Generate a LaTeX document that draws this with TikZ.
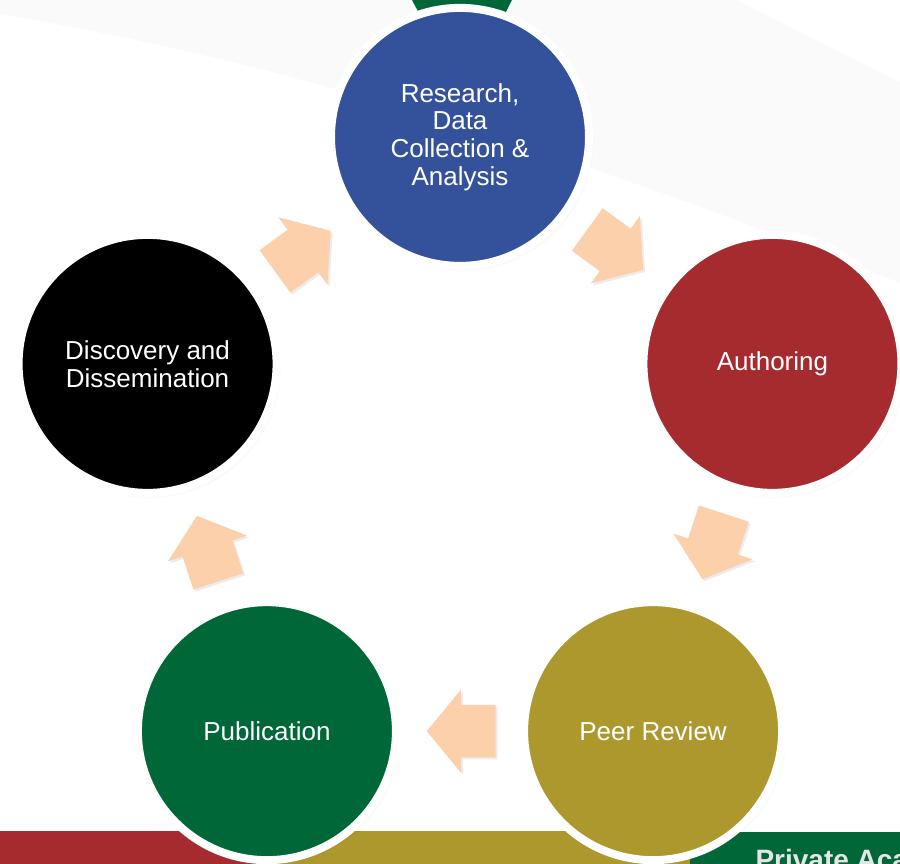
\documentclass[tikz,border=0pt]{standalone}
\usepackage{fontspec}
\setmainfont{Liberation Sans}
\usepackage{tikz}
\usetikzlibrary{shapes.arrows, shadows, calc}
\definecolor{resblue}{RGB}{51,82,155}
\definecolor{authred}{RGB}{166,43,47}
\definecolor{peerolive}{RGB}{173,152,46}
\definecolor{pubgreen}{RGB}{0,104,56}
\definecolor{peach}{RGB}{253,208,172}
\tikzset{
stage/.style={circle, draw=white, line width=8pt, minimum size=258pt, text=white, align=center, font=\fontsize{26}{27.7}\selectfont}, % the five circles
stage/.append style={circular drop shadow={shadow scale=1.02, shadow xshift=2pt, shadow yshift=-3pt, opacity=0.35}}, % soft shadow under each circle
flow/.style={single arrow, fill=peach, draw=none, inner xsep=0pt, inner ysep=26pt, minimum height=69pt, single arrow head extend=15.5pt, single arrow tip angle=101}, % the block arrows
flow/.append style={sloped, allow upside down, xshift=-12pt, drop shadow={opacity=0.15, shadow xshift=2pt, shadow yshift=-2pt}}, % turned along the edge
}

\begin{document}
\begin{tikzpicture}[x=1pt, y=1pt]
      \clip (0,0) rectangle (900,864);
      \fill[black!2] (0,864) -- (737,864) -- (900,782) -- (900,581) .. controls (600,700) and (300,800) .. (0,850) -- cycle;
      \fill[pubgreen] (412,864) -- (512,864) -- (495,830) -- (430,830) -- cycle;
      \fill[authred] (0,0) rectangle (267,33);
      \fill[peerolive] (267,0) rectangle (690,33);
      \fill[pubgreen] (690,0) rectangle (900,32);
      \node[anchor=base west, text=black!10, font=\bfseries\fontsize{28}{30}\selectfont] (banner) at (752,-6) {Private Aca};

      \coordinate (hub) at (460,398.6);
      \node[stage, fill=resblue] (research) at ([shift={(90:328.5)}]hub) {Research,\\Data\\Collection \&\\Analysis};
      \node[stage, fill=authred] (authoring) at ([shift={(18:328.5)}]hub) {Authoring};
      \node[stage, fill=peerolive] (peer) at ([shift={(-54:328.5)}]hub) {Peer Review};
      \node[stage, fill=pubgreen] (publication) at ([shift={(-126:328.5)}]hub) {Publication};
      \node[stage, fill=black] (discovery) at ([shift={(162:328.5)}]hub) {Discovery and\\Dissemination};

      \path (research) -- node[flow] {} (authoring)
      (authoring) -- node[flow] {} (peer)
      (peer) -- node[flow] {} (publication)
      (publication) -- node[flow] {} (discovery)
      (discovery) -- node[flow] {} (research);
    \end{tikzpicture}
\end{document}
